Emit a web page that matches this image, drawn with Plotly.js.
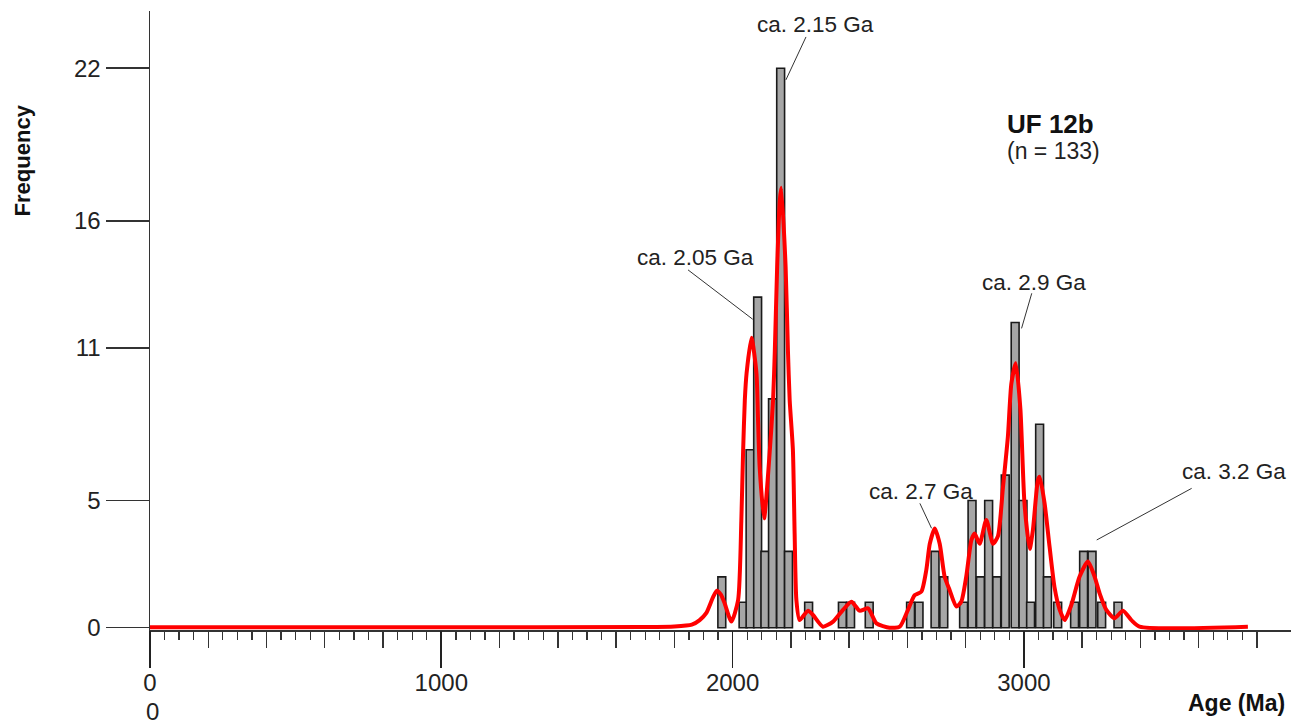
<!DOCTYPE html>
<html><head><meta charset="utf-8">
<script src="https://cdn.plot.ly/plotly-3.0.1.min.js"></script>
<style>html,body{margin:0;padding:0;background:#fff;}#chart{width:1306px;height:726px;}</style>
</head><body><div id="chart"></div>
<script>
// Histogram bins (age in Ma, bin centre) and counts
const binCenters = [1963, 2036, 2060, 2086, 2111, 2137, 2165, 2192, 2261, 2377, 2405, 2469,
  2611, 2640, 2695, 2725, 2793, 2822, 2851, 2879, 2907, 2936, 2970, 2997, 3023, 3054, 3081,
  3116, 3174, 3205, 3234, 3267, 3323];
const binCounts = [2, 1, 7, 13, 3, 9, 22, 3, 1, 1, 1, 1,
  1, 1, 3, 2, 1, 5, 2, 5, 2, 6, 12, 5, 1, 8, 2,
  1, 1, 3, 3, 1, 1];

// Probability density curve (scaled to frequency)
const pdfAges = [0, 1000, 1700, 1800, 1860, 1887, 1910, 1933, 1946, 1960, 1973, 1996, 2019, 2030,
  2036, 2042, 2048, 2065, 2082, 2087, 2093, 2108, 2128, 2139, 2145, 2153, 2162, 2167, 2182, 2190,
  2196, 2207, 2213, 2219, 2230, 2259, 2276, 2310, 2345, 2379, 2408, 2436, 2465, 2494, 2539, 2574,
  2602, 2625, 2648, 2665, 2677, 2694, 2711, 2728, 2745, 2768, 2785, 2802, 2820, 2831, 2848, 2871,
  2894, 2911, 2928, 2945, 2957, 2972, 2988, 3002, 3020, 3031, 3048, 3054, 3071, 3088, 3105, 3123,
  3140, 3163, 3191, 3220, 3243, 3260, 3283, 3311, 3340, 3369, 3397, 3769];
const pdfValues = [0.02, 0.02, 0.03, 0.05, 0.12, 0.3, 0.58, 1.2, 1.45, 1.3, 0.95, 0.24, 1.09, 4.2,
  6.9, 8.95, 10.0, 11.4, 10.0, 8.3, 6.3, 4.3, 7.0, 8.95, 10.9, 14.2, 16.8, 17.3, 14.2, 10.9,
  8.95, 7.0, 3.7, 1.09, 0.3, 0.67, 0.5, 0.04, 0.24, 0.7, 1.02, 0.67, 0.76, 0.17, 0.0, 0.04,
  0.7, 1.28, 1.42, 2.27, 3.3, 3.9, 3.3, 2.0, 1.48, 0.83, 1.02, 2.0, 3.45, 3.7, 3.3, 4.24,
  3.3, 3.6, 5.5, 7.5, 9.6, 10.4, 8.6, 4.9, 3.1, 3.84, 5.8, 5.94, 4.9, 3.2, 1.6, 0.7,
  0.3, 0.9, 2.0, 2.6, 2.0, 1.35, 0.7, 0.37, 0.67, 0.3, 0.04, 0.04];

const yTickVals = [0, 5, 11, 16, 22];
const xLabelVals = [0, 1000, 2000, 3000];
const xLabelText = ['0', '1000', '2000', '3000'];
const peakLabels = ['ca. 2.15 Ga', 'ca. 2.05 Ga', 'ca. 2.9 Ga', 'ca. 2.7 Ga', 'ca. 3.2 Ga'];
const sampleName = 'UF 12b';
const sampleN = '(n = 133)';

const FONT = 'Liberation Sans, Arial, Helvetica, sans-serif';
const INK = '#222';
const XR = [0, 3917];
const YR = [-0.09, 24.25];

const smallTicks = [], mediumTicks = [];
for (let v = 0; v <= 3800; v += 50) {
  if (v % 1000 === 0) continue;
  if (v % 200 === 0) mediumTicks.push(v); else smallTicks.push(v);
}

const traces = [
  { type: 'bar', x: binCenters, y: binCounts, width: 27, xaxis: 'x', yaxis: 'y',
    marker: { color: '#a6a6a6', line: { color: '#1a1a1a', width: 1.6 } }, hoverinfo: 'skip' },
  { type: 'scatter', mode: 'lines', x: pdfAges, y: pdfValues, xaxis: 'x', yaxis: 'y',
    line: { color: '#ff0000', width: 4, shape: 'spline', smoothing: 0.6 }, hoverinfo: 'skip' },
  { type: 'scatter', mode: 'lines', x: [], y: [], xaxis: 'x2', yaxis: 'y', showlegend: false },
  { type: 'scatter', mode: 'lines', x: [], y: [], xaxis: 'x3', yaxis: 'y', showlegend: false },
  { type: 'scatter', mode: 'lines', x: [], y: [], xaxis: 'x4', yaxis: 'y', showlegend: false }
];

const baseX = { range: XR, showgrid: false, zeroline: false, fixedrange: true };
const layout = {
  width: 1306, height: 726, showlegend: false,
  paper_bgcolor: '#fff', plot_bgcolor: '#fff',
  margin: { l: 150, r: 15, t: 11, b: 96, pad: 0 },
  font: { family: FONT, color: INK },
  bargap: 0,
  xaxis: Object.assign({}, baseX, {
    anchor: 'y', showline: true, linecolor: '#333', linewidth: 1.5,
    tickmode: 'array', tickvals: smallTicks, ticks: 'outside', ticklen: 8,
    tickwidth: 1.3, tickcolor: '#333', showticklabels: false
  }),
  xaxis2: Object.assign({}, baseX, {
    overlaying: 'x', anchor: 'y', showline: false,
    tickmode: 'array', tickvals: mediumTicks, ticks: 'outside', ticklen: 17,
    tickwidth: 1.4, tickcolor: '#333', showticklabels: false
  }),
  xaxis3: Object.assign({}, baseX, {
    overlaying: 'x', anchor: 'y', showline: false,
    tickmode: 'array', tickvals: xLabelVals, ticks: 'outside', ticklen: 37,
    tickwidth: 1.8, tickcolor: '#222', showticklabels: false
  }),
  xaxis4: Object.assign({}, baseX, {
    overlaying: 'x', anchor: 'y', showline: false,
    tickmode: 'array', tickvals: xLabelVals, ticktext: xLabelText, ticks: 'outside', ticklen: 31,
    tickwidth: 1, tickcolor: 'rgba(0,0,0,0)', showticklabels: true,
    tickfont: { family: FONT, size: 24, color: INK }
  }),
  yaxis: {
    range: YR, showgrid: false, zeroline: false, fixedrange: true,
    showline: true, linecolor: '#333', linewidth: 1.5,
    tickmode: 'array', tickvals: yTickVals, ticks: 'outside', ticklen: 43,
    tickwidth: 1.5, tickcolor: '#333',
    tickfont: { family: FONT, size: 24, color: INK }
  },
  shapes: [
    [2252, 23.23, 2183, 21.54],
    [1847, 14.07, 2069, 12.13],
    [3027, 13.15, 2992, 11.77],
    [2643, 4.89, 2683, 3.91],
    [3576, 5.48, 3250, 3.45]
  ].map(s => ({ type: 'line', xref: 'x', yref: 'y', x0: s[0], y0: s[1], x1: s[2], y1: s[3],
    line: { color: '#333', width: 1 } })),
  annotations: [
    { text: peakLabels[0], x: 2283, y: 23.7 },
    { text: peakLabels[1], x: 1871, y: 14.54 },
    { text: peakLabels[2], x: 3035, y: 13.59 },
    { text: peakLabels[3], x: 2646, y: 5.36 },
    { text: peakLabels[4], x: 3721, y: 6.14 }
  ].map(a => Object.assign({ xref: 'x', yref: 'y', showarrow: false, xanchor: 'center', yanchor: 'middle',
    font: { family: FONT, size: 22.5, color: INK } }, a)).concat([
    { text: '<b>' + sampleName + '</b>', xref: 'x', yref: 'y', x: 2935, y: 19.81, xanchor: 'left', yanchor: 'middle',
      showarrow: false, font: { family: FONT, size: 26, color: '#111' } },
    { text: sampleN, xref: 'x', yref: 'y', x: 2935, y: 18.75, xanchor: 'left', yanchor: 'middle',
      showarrow: false, font: { family: FONT, size: 23, color: INK } },
    { text: '<b>Frequency</b>', xref: 'paper', yref: 'paper', x: -0.112, y: 0.759, textangle: -90,
      xanchor: 'center', yanchor: 'middle', showarrow: false, font: { family: FONT, size: 22, color: '#111' } },
    { text: '<b>Age (Ma)</b>', xref: 'paper', yref: 'paper', x: 0.952, y: -0.118,
      xanchor: 'center', yanchor: 'middle', showarrow: false, font: { family: FONT, size: 23, color: '#111' } },
    { text: '0', xref: 'paper', yref: 'paper', x: 0.0018, y: -0.1551,
      xanchor: 'center', yanchor: 'bottom', showarrow: false, borderpad: 0,
      font: { family: FONT, size: 24, color: INK } }
  ])
};

Plotly.newPlot('chart', traces, layout, { staticPlot: true, displayModeBar: false });
</script>
</body></html>
